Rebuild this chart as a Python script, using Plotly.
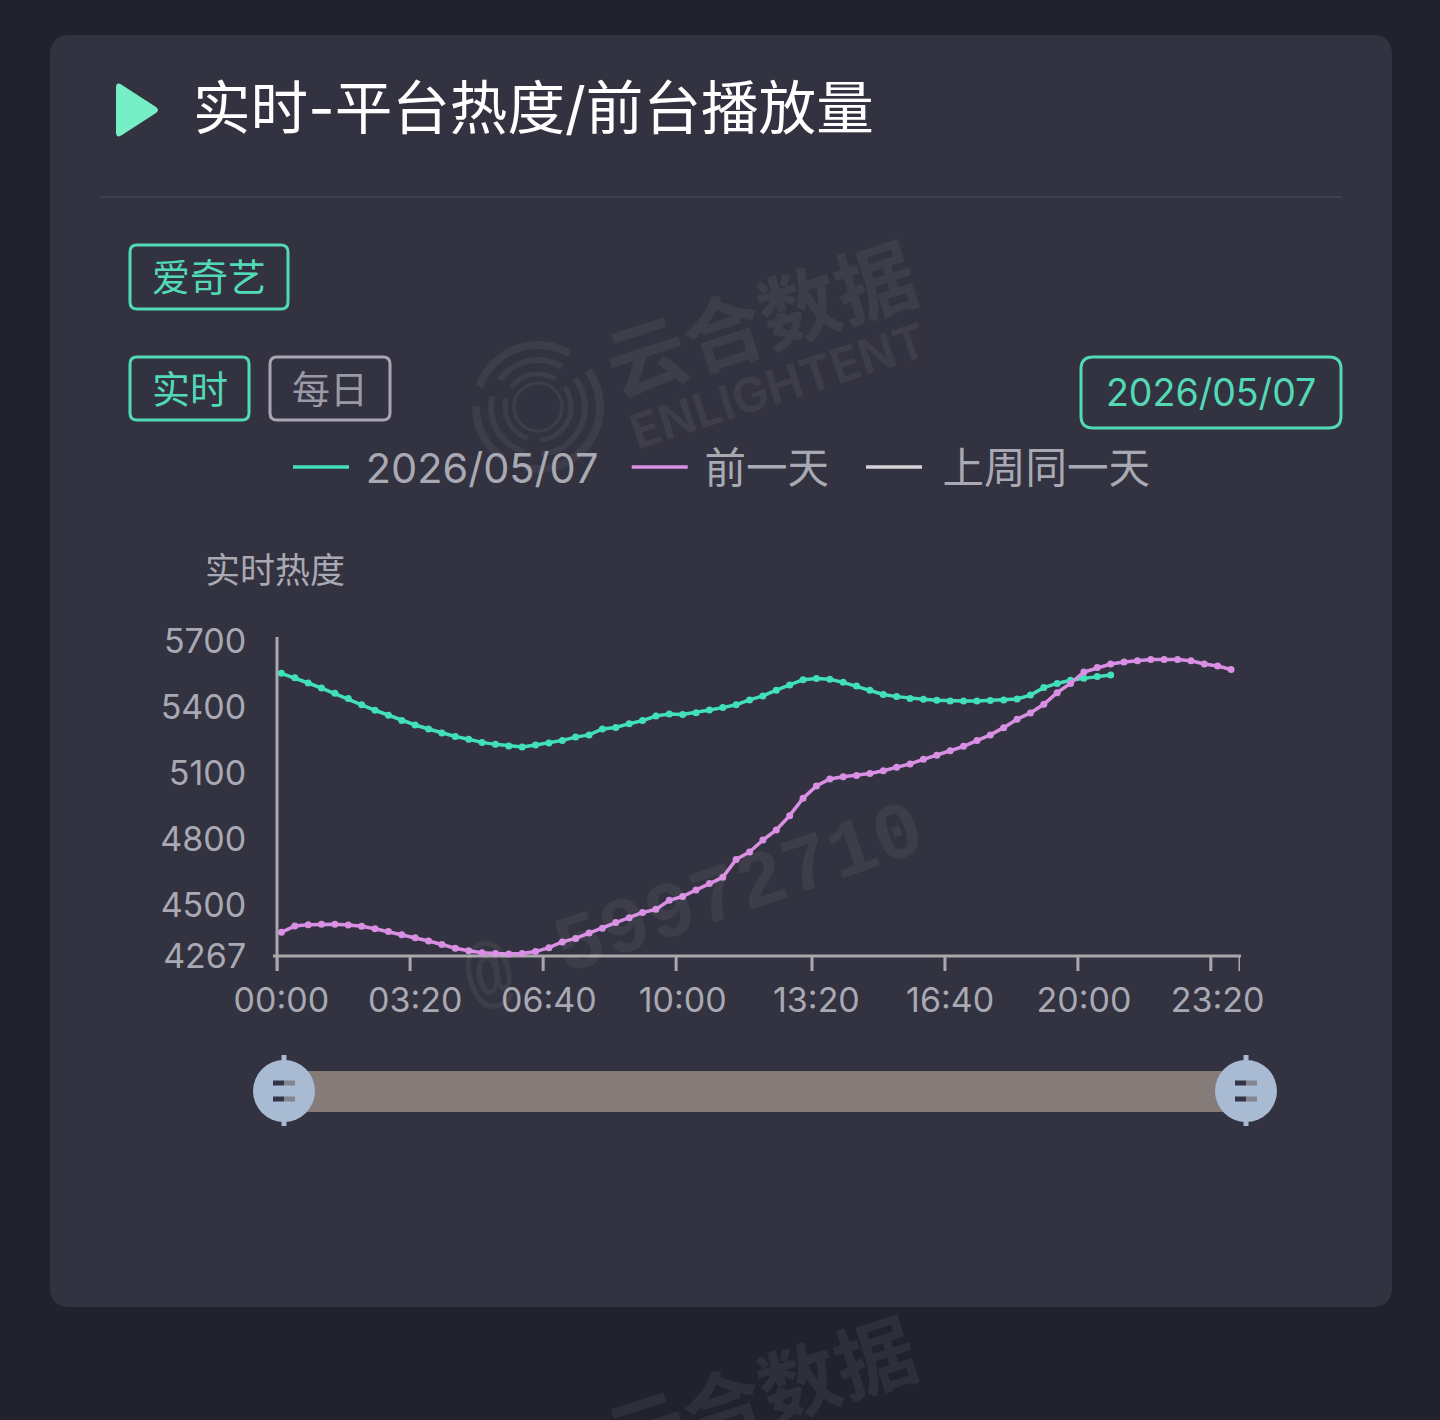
import plotly.graph_objects as go

TITLE = "实时-平台热度/前台播放量"
SERIES_NAMES = ["2026/05/07", "前一天", "上周同一天"]
Y_NAME = "实时热度"
TIMES = ["00:00","00:20","00:40","01:00","01:20","01:40","02:00","02:20","02:40","03:00","03:20","03:40",
         "04:00","04:20","04:40","05:00","05:20","05:40","06:00","06:20","06:40","07:00","07:20","07:40",
         "08:00","08:20","08:40","09:00","09:20","09:40","10:00","10:20","10:40","11:00","11:20","11:40",
         "12:00","12:20","12:40","13:00","13:20","13:40","14:00","14:20","14:40","15:00","15:20","15:40",
         "16:00","16:20","16:40","17:00","17:20","17:40","18:00","18:20","18:40","19:00","19:20","19:40",
         "20:00","20:20","20:40","21:00","21:20","21:40","22:00","22:20","22:40","23:00","23:20","23:40"]
TODAY = [5552,5532,5508,5485,5461,5437,5409,5384,5361,5337,5317,5299,5281,5265,5252,5238,5229,5222,5217,5226,5235,
         5247,5262,5272,5299,5306,5323,5337,5358,5367,5365,5373,5385,5396,5409,5431,5449,5475,5499,5523,5528,5525,
         5511,5494,5475,5456,5446,5438,5434,5429,5426,5426,5426,5428,5431,5435,5453,5487,5506,5520,5529,5537,5544]
PREV = [4375,4403,4409,4411,4411,4408,4402,4391,4378,4364,4350,4335,4319,4302,4291,4282,4278,4276,4278,4287,4305,
        4331,4347,4372,4393,4419,4441,4465,4479,4520,4538,4567,4597,4625,4706,4740,4794,4840,4905,4984,5040,5072,
        5082,5088,5097,5109,5125,5140,5161,5179,5200,5220,5246,5272,5305,5343,5372,5411,5464,5506,5558,5578,5594,
        5603,5609,5615,5615,5615,5609,5594,5585,5569]
Y_TICKS = [4267,4500,4800,5100,5400,5700]
X_TICK_LABELS = ["00:00","03:20","06:40","10:00","13:20","16:40","20:00","23:20"]
X_TICK_MARKS = [-0.33, 9.62, 19.57, 29.51, 39.67, 49.61, 59.55, 69.49, 71.67]

GREEN = "#41e0bb"; PINK = "#d98fe4"; WHITE = "#d4d4d8"; GREY = "#a9a9b3"; BTN = "#52d9b5"; BTN_GREY = "#a8a6b4"
BG = "#22222d"; CARD = "#323240"; FONT = "Inter, Noto Sans CJK SC"; AXIS = "#a8a8ac"
L, T, PW, PH = 277, 637, 963, 319
def px(x): return (x - L) / PW
def py(y): return (T + PH - y) / PH

def rr(x0, y0, x1, y1, r):
    a, b, c, d = px(x0), py(y0), px(x1), py(y1)
    rx, ry = r / PW, r / PH
    return (f"M{a+rx},{b} L{c-rx},{b} Q{c},{b} {c},{b-ry} L{c},{d+ry} Q{c},{d} {c-rx},{d} "
            f"L{a+rx},{d} Q{a},{d} {a},{d+ry} L{a},{b-ry} Q{a},{b} {a+rx},{b} Z")

def box(x0, y0, x1, y1, r, line=None, fill=None, width=3):
    return dict(type="path", xref="paper", yref="paper", path=rr(x0, y0, x1, y1, r), layer="below",
                line=dict(color=line or "rgba(0,0,0,0)", width=width if line else 0), fillcolor=fill or "rgba(0,0,0,0)")

def seg(x0, y0, x1, y1, color, w):
    return dict(type="line", xref="paper", yref="paper", x0=px(x0), x1=px(x1), y0=py(y0), y1=py(y1), layer="below",
                line=dict(color=color, width=w))

def circle(cx, cy, r, fill=None, line=None, w=0, dash=None):
    return dict(type="circle", xref="paper", yref="paper", x0=px(cx-r), x1=px(cx+r), y0=py(cy+r), y1=py(cy-r), layer="below",
                fillcolor=fill or "rgba(0,0,0,0)", line=dict(color=line or "rgba(0,0,0,0)", width=w, dash=dash or "solid"))

def text(s, x, y, size, color, anchor="center", angle=0, weight=400, family=FONT):
    return dict(text=s, xref="paper", yref="paper", x=px(x), y=py(y), xanchor=anchor, yanchor="middle", showarrow=False,
                textangle=angle, font=dict(family=family, size=size, color=color, weight=weight))

WM = "rgba(255,255,255,0.06)"
shapes = [
    box(50, 35, 1392, 1307, 20, fill=CARD),
    seg(100, 197, 1342, 197, "#40404e", 2),
    dict(type="path", xref="paper", yref="paper", fillcolor="#76eec6", line=dict(width=0), layer="below",
         path=f"M{px(116)},{py(88)} Q{px(116)},{py(81)} {px(122)},{py(85)} L{px(156)},{py(107)} Q{px(160)},{py(110)} {px(156)},{py(113)} "
              f"L{px(122)},{py(135)} Q{px(116)},{py(139)} {px(116)},{py(132)} Z"),
    box(130, 245, 288, 309, 7, line=BTN),
    box(130, 357, 249, 420, 7, line=BTN),
    box(270, 357, 390, 420, 7, line=BTN_GREY),
    box(1081, 357, 1341, 428, 12, line=BTN),
    # slider
    dict(type="rect", xref="paper", yref="paper", x0=px(284), x1=px(1246), y0=py(1112), y1=py(1071), layer="below",
         fillcolor="#857b78", line=dict(width=0)),
]
for cx in (284, 1246):
    shapes += [seg(cx, 1055, cx, 1126, "#a9bbd2", 5), circle(cx, 1091, 31, fill="#a9bbd2"),
               seg(cx-11, 1083, cx, 1083, "#33334a", 5), seg(cx, 1083, cx+11, 1083, "#85858f", 5),
               seg(cx-11, 1099, cx, 1099, "#33334a", 5), seg(cx, 1099, cx+11, 1099, "#85858f", 5)]
# watermark logo
for r, w, d in ((62, 8, "110px,25px,60px,20px"), (47, 6, "70px,18px"), (33, 5, "50px,12px"), (24, 3, "solid")):
    shapes.append(circle(538, 407, r, line=WM, w=w, dash=d))
# axis lines sit exactly on the plot-area edges; tick marks sit on band edges, not on the labels
shapes += [seg(277, 637, 277, 971, AXIS, 3), seg(273, 956, 1241, 956, AXIS, 3)]
for v in X_TICK_MARKS:
    shapes.append(dict(type="line", xref="x", yref="paper", x0=v, x1=v, y0=0, y1=-15 / PH, layer="below",
                       line=dict(color=AXIS, width=3)))

annotations = [
    text(TITLE, 191, 108, 57.6, "#ffffff", "left"),
    text("爱奇艺", 208.5, 277, 38, BTN),
    text("实时", 189.5, 389, 38, BTN),
    text("每日", 330, 389, 38, "#9a99a5"),
    text("2026/05/07", 1211, 392, 37.5, BTN),
    text(Y_NAME, 275, 570, 35, GREY),
    text("云合数据", 761, 320, 80, WM, angle=-18, weight=700),
    text("ENLIGHTENT", 778, 385, 48, WM, angle=-18, weight=700),
    text("@ 59972710", 694, 906, 80, WM, angle=-19, weight=700, family="Liberation Mono"),
    text("云合数据", 761, 1395, 80, WM, angle=-18, weight=700),
]

fig = go.Figure()
fig.add_trace(go.Scatter(x=TIMES[:len(TODAY)], y=TODAY, mode="lines+markers", showlegend=False, cliponaxis=False,
                         line=dict(color=GREEN, width=3.5), marker=dict(color=GREEN, size=7)))
fig.add_trace(go.Scatter(x=TIMES[:len(PREV)], y=PREV, mode="lines+markers", showlegend=False, cliponaxis=False,
                         line=dict(color=PINK, width=3.5), marker=dict(color=PINK, size=7)))
# Legend shows plain lines (no marker); the third series has no data in the chart.
LEFT_PAD = ["\u00a0", "\u00a0", "\u00a0\u200a"]
RIGHT_PAD = ["\u00a0\u00a0", "\u00a0\u00a0\u200a", ""]
for name, color, lp, rp in zip(SERIES_NAMES, (GREEN, PINK, WHITE), LEFT_PAD, RIGHT_PAD):
    fig.add_trace(go.Scatter(x=[TIMES[0]], y=[None], mode="lines", name=lp + name + rp,
                             line=dict(color=color, width=3.5)))

rng = [-0.33, 71.67]
fig.update_layout(
    width=1440, height=1420, margin=dict(l=L, r=1440-L-PW, t=T, b=1420-T-PH),
    paper_bgcolor=BG, plot_bgcolor="rgba(0,0,0,0)",
    font=dict(family=FONT, color=GREY),
    shapes=shapes, annotations=annotations,
    legend=dict(orientation="h", x=px(288), y=py(467), xanchor="left", yanchor="middle",
                font=dict(size=41.5, color=GREY, family=FONT), itemwidth=56, bgcolor="rgba(0,0,0,0)"),
    xaxis=dict(type="category", categoryorder="array", categoryarray=TIMES, range=rng,
               tickmode="array", tickvals=X_TICK_LABELS, ticktext=X_TICK_LABELS,
               ticks="outside", ticklen=14, tickcolor="rgba(0,0,0,0)", tickangle=0,
               tickfont=dict(size=34, color=GREY, family=FONT),
               showgrid=False, zeroline=False, showline=False),
    yaxis=dict(range=[4267, 5717], tickmode="array", tickvals=Y_TICKS, ticktext=[str(v) for v in Y_TICKS],
               ticks="outside", ticklen=23, tickcolor="rgba(0,0,0,0)",
               tickfont=dict(size=34, color=GREY, family=FONT),
               showgrid=False, zeroline=False, showline=False),
)
fig.write_html("out.html", post_script="document.body.style.margin='0';document.body.style.background='%s';" % BG,
               config={"displayModeBar": False})
